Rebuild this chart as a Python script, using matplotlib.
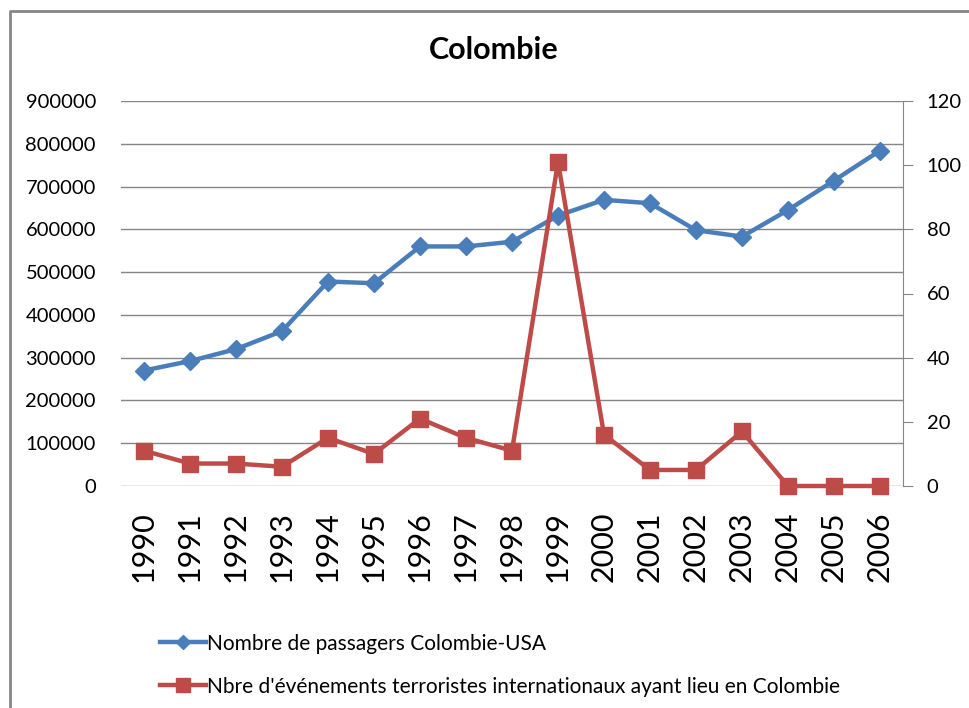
import matplotlib
matplotlib.use("Agg")
import matplotlib.pyplot as plt
from matplotlib.lines import Line2D

# données
annees = ["1990", "1991", "1992", "1993", "1994", "1995", "1996", "1997", "1998",
          "1999", "2000", "2001", "2002", "2003", "2004", "2005", "2006"]
passagers = [270000, 292000, 320000, 362000, 478000, 474000, 560000, 560000, 571000,
             632000, 669000, 661000, 598000, 583000, 645000, 714000, 784000]
evenements = [11, 7, 7, 6, 15, 10, 21, 15, 11, 101, 16, 5, 5, 17, 0, 0, 0]

bleu = "#4A7EBB"
rouge = "#BE4B48"
gris = "#868686"

plt.rcParams['font.family'] = ['Lato', 'DejaVu Sans']

fig = plt.figure(figsize=(9.7, 7.08), dpi=100)
ax = fig.add_axes([121 / 970, 1 - 486 / 708, (903 - 121) / 970, (486 - 101) / 708])
ax2 = ax.twinx()

x = list(range(len(annees)))
ax.plot(x, passagers, color=bleu, lw=3.2, marker="D", ms=9, zorder=3, clip_on=False)
ax2.plot(x, evenements, color=rouge, lw=3.2, marker="s", ms=11, zorder=3, clip_on=False)

ax.set_xlim(-0.5, len(annees) - 0.5)
ax.set_ylim(0, 900000)
ax.set_yticks(range(0, 900001, 100000))
ax2.set_ylim(0, 120)
ax2.set_yticks(range(0, 121, 20))

ax.grid(axis="y", color=gris, lw=1)
ax.set_axisbelow(True)
ax.set_xticks(x)
ax.set_xticklabels(annees, rotation=90, fontsize=22)
ax.tick_params(axis="x", length=0, pad=18)
ax.tick_params(axis="y", length=0, labelsize=14.5, pad=18)
ax2.tick_params(axis="y", length=7, color=gris, labelsize=14.5, pad=10)

for s in ["top", "left", "bottom"]:
    ax.spines[s].set_visible(False)
    ax2.spines[s].set_visible(False)
ax.spines["right"].set_visible(False)
ax2.spines["right"].set_color(gris)

fig.text(494 / 970, 1 - 50 / 708, "Colombie", ha="center", va="center",
         fontsize=22, fontweight="bold")

poignees = [
    Line2D([], [], color=bleu, lw=3.2, marker="D", ms=7),
    Line2D([], [], color=rouge, lw=3.2, marker="s", ms=10),
]
noms = ["Nombre de passagers Colombie-USA",
        "Nbre d'événements terroristes internationaux ayant lieu en Colombie"]
fig.legend(poignees, noms, loc="upper left", bbox_to_anchor=(141 / 970, 1 - 615 / 708),
           frameon=False, fontsize=15, handlelength=2.2, handletextpad=0.05,
           labelspacing=1.1)

# cadre du graphique (bord gauche et haut)
fig.add_artist(Line2D([10 / 970, 10 / 970, 1], [0, 1 - 11 / 708, 1 - 11 / 708],
                      color=gris, lw=2, transform=fig.transFigure))

fig.savefig("out.png", dpi=100)
